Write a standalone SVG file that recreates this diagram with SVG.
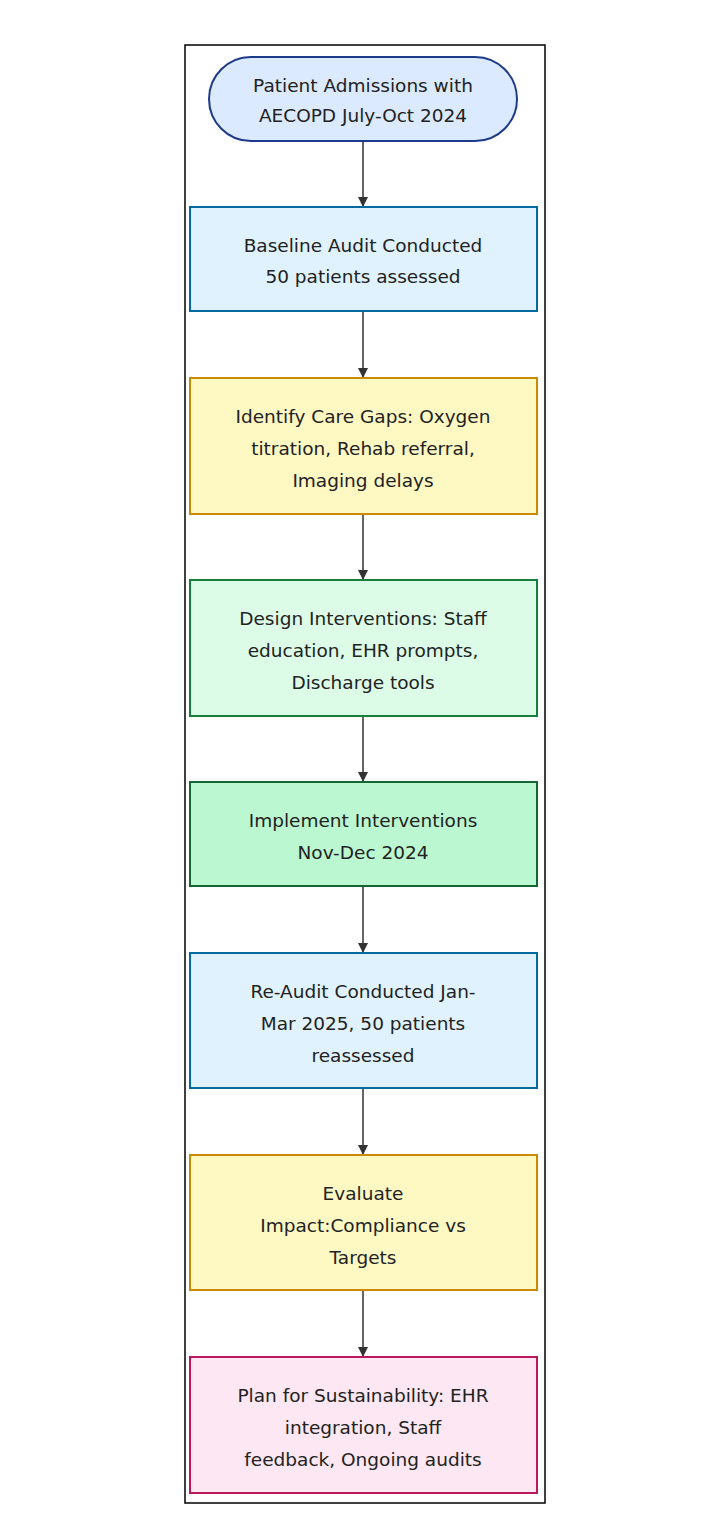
<svg xmlns="http://www.w3.org/2000/svg" width="728" height="1519" viewBox="0 0 728 1519">
<defs>
<style>
text{font-family:"DejaVu Sans",sans-serif;font-size:18.5px;fill:#222;text-anchor:middle}
.n{stroke-width:2}
.blue{fill:#e0f2fe;stroke:#0369a1}
.yel{fill:#fef9c3;stroke:#ca8a04}
.lg{fill:#dcfce7;stroke:#15803d}
.dg{fill:#bbf7d0;stroke:#166534}
.pk{fill:#fce7f3;stroke:#be185d}
.e{stroke:#333;stroke-width:1.5;fill:none;marker-end:url(#a)}
</style>
<marker id="a" viewBox="0 0 10 10" refX="10" refY="5" markerWidth="7" markerHeight="7" orient="auto"><path d="M0,0L10,5L0,10z" fill="#333"/></marker>
</defs>
<rect width="728" height="1519" fill="#fff"/>
<rect x="185" y="45" width="360" height="1458" fill="none" stroke="#000" stroke-width="1.5"/>
<g id="connectors">
<line class="e" x1="363" y1="141" x2="363" y2="207"/>
<line class="e" x1="363" y1="311" x2="363" y2="378"/>
<line class="e" x1="363" y1="514" x2="363" y2="580"/>
<line class="e" x1="363" y1="716" x2="363" y2="782"/>
<line class="e" x1="363" y1="886" x2="363" y2="953"/>
<line class="e" x1="363" y1="1088" x2="363" y2="1155"/>
<line class="e" x1="363" y1="1290" x2="363" y2="1357"/>
</g>
<g id="n1"><rect class="n" x="209" y="57" width="308" height="84" rx="42" fill="#dbeafe" stroke="#1e3a8a"/><text x="363" y="92">Patient Admissions with</text><text x="363" y="122">AECOPD July-Oct 2024</text></g>
<g id="n2"><rect class="n blue" x="190" y="207" width="347" height="104"/><text x="363" y="252">Baseline Audit Conducted</text><text x="363" y="283">50 patients assessed</text></g>
<g id="n3"><rect class="n yel" x="190" y="378" width="347" height="136"/><text x="363" y="423">Identify Care Gaps: Oxygen</text><text x="363" y="455">titration, Rehab referral,</text><text x="363" y="487">Imaging delays</text></g>
<g id="n4"><rect class="n lg" x="190" y="580" width="347" height="136"/><text x="363" y="625">Design Interventions: Staff</text><text x="363" y="657">education, EHR prompts,</text><text x="363" y="689">Discharge tools</text></g>
<g id="n5"><rect class="n dg" x="190" y="782" width="347" height="104"/><text x="363" y="827">Implement Interventions</text><text x="363" y="859">Nov-Dec 2024</text></g>
<g id="n6"><rect class="n blue" x="190" y="953" width="347" height="135"/><text x="363" y="998">Re-Audit Conducted Jan-</text><text x="363" y="1030">Mar 2025, 50 patients</text><text x="363" y="1062">reassessed</text></g>
<g id="n7"><rect class="n yel" x="190" y="1155" width="347" height="135"/><text x="363" y="1200">Evaluate</text><text x="363" y="1232">Impact:Compliance vs</text><text x="363" y="1264">Targets</text></g>
<g id="n8"><rect class="n pk" x="190" y="1357" width="347" height="136"/><text x="363" y="1402">Plan for Sustainability: EHR</text><text x="363" y="1434">integration, Staff</text><text x="363" y="1466">feedback, Ongoing audits</text></g>
</svg>
